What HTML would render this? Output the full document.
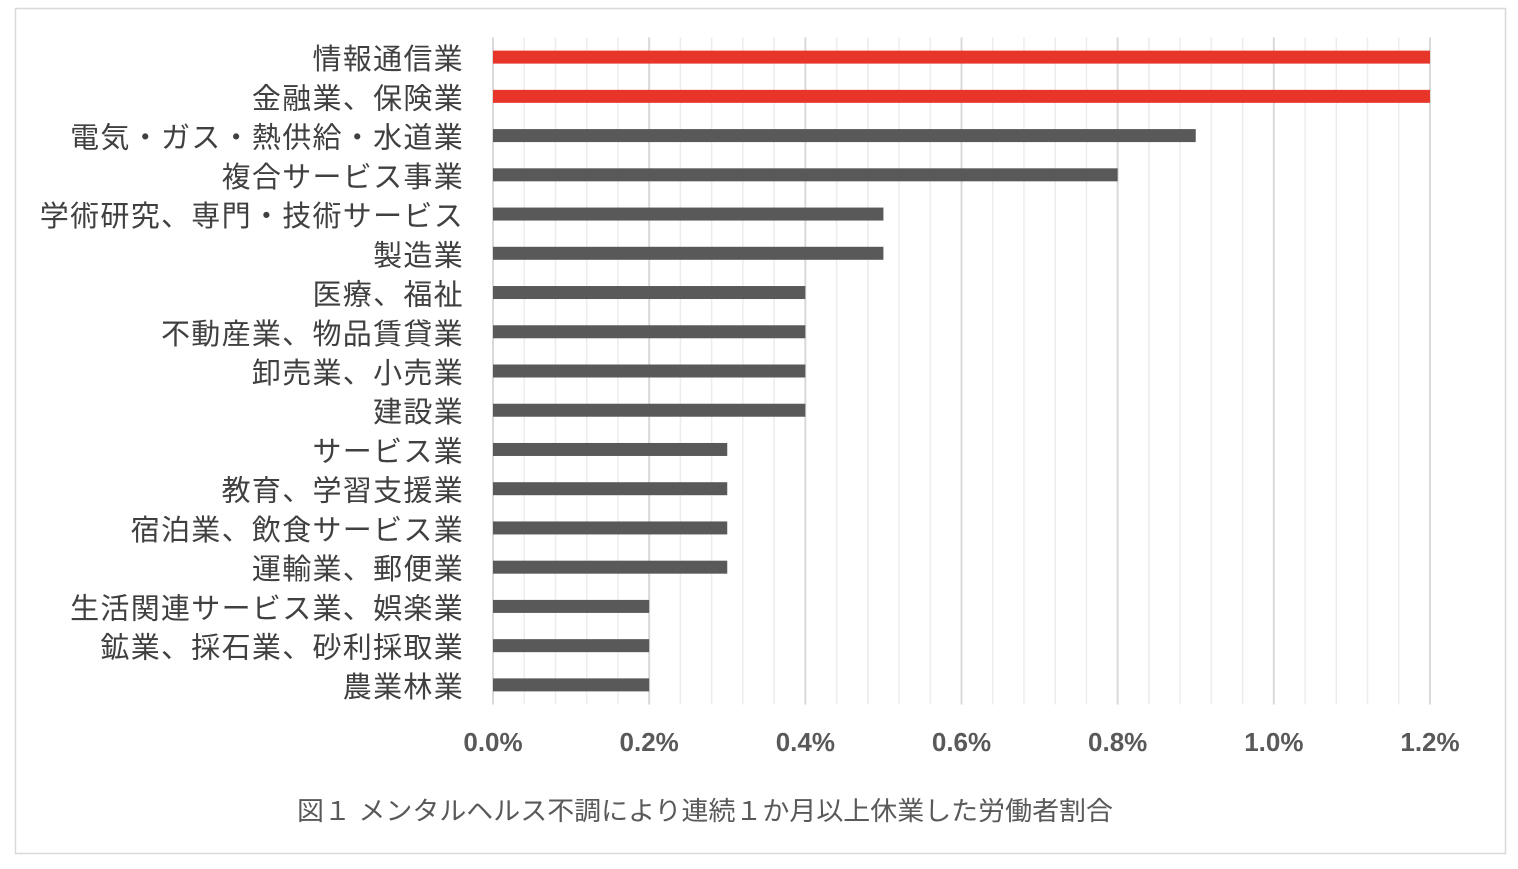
<!DOCTYPE html>
<html><head><meta charset="utf-8"><style>
body{margin:0;background:#fff;}
svg text{font-family:"Liberation Sans","Noto Sans CJK JP",sans-serif;}
</style></head><body>
<svg width="1518" height="864">
<rect x="15.5" y="8.5" width="1490" height="845" fill="#fff" stroke="#d9d9d9" stroke-width="1.5"/>
<g id="grid"></g><g id="bars"></g><g id="labels"></g><g id="ticks"></g>
<text x="705" y="820" font-size="26" fill="#595959" text-anchor="middle" textLength="816" lengthAdjust="spacingAndGlyphs">図１ メンタルヘルス不調により連続１か月以上休業した労働者割合</text>
</svg>
<script>
const categories=["情報通信業","金融業、保険業","電気・ガス・熱供給・水道業","複合サービス事業","学術研究、専門・技術サービス","製造業","医療、福祉","不動産業、物品賃貸業","卸売業、小売業","建設業","サービス業","教育、学習支援業","宿泊業、飲食サービス業","運輸業、郵便業","生活関連サービス業、娯楽業","鉱業、採石業、砂利採取業","農業林業"];
const values=[1.2,1.2,0.9,0.8,0.5,0.5,0.4,0.4,0.4,0.4,0.3,0.3,0.3,0.3,0.2,0.2,0.2];
const highlight=[true,true,false,false,false,false,false,false,false,false,false,false,false,false,false,false,false];
const tickValues=[0,0.2,0.4,0.6,0.8,1.0,1.2];
const tickLabels=["0.0%","0.2%","0.4%","0.6%","0.8%","1.0%","1.2%"];
const NS="http://www.w3.org/2000/svg";
const x0=493,x1=1430,xmax=1.2,plotTop=37.5,plotBottom=704.5;
const band=(plotBottom-plotTop)/categories.length;
const xs=v=>x0+(v/xmax)*(x1-x0);
const yc=i=>plotTop+band*(i+0.5);
function mk(t,a,p){const e=document.createElementNS(NS,t);for(const k in a)e.setAttribute(k,a[k]);p.appendChild(e);return e;}
const grid=document.getElementById('grid');
for(let k=0;k<=30;k++){const v=k*0.04;const major=k%5===0;
const l=mk('line',{x1:xs(v),x2:xs(v),y1:plotTop,y2:plotBottom,stroke:major?'#d9d9d9':'#ececec','stroke-width':major?2:1.5},grid);

}
const bars=document.getElementById('bars'),labels=document.getElementById('labels'),ticks=document.getElementById('ticks');
categories.forEach((c,i)=>{
const r=mk('rect',{x:x0,y:yc(i)-6.5,width:xs(values[i])-x0,height:13,fill:highlight[i]?'#e8352a':'#595959'},bars);


const t=mk('text',{x:464,y:yc(i)+12,'font-size':29,'letter-spacing':'1.3',fill:'#404040','text-anchor':'end'},labels);t.textContent=c;


});
tickValues.forEach((v,i)=>{const t=mk('text',{x:xs(v),y:751,'font-size':26,fill:'#595959','font-weight':'600','text-anchor':'middle'},ticks);t.textContent=tickLabels[i];

});
</script>
</body></html>
